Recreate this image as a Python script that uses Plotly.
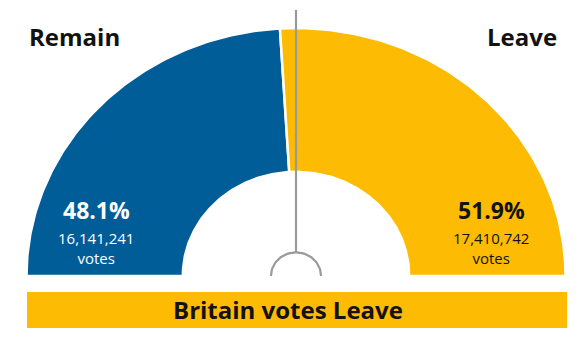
import numpy as np
import plotly.graph_objects as go

# ---- data ----
sides = ["Remain", "Leave"]
shares = [48.1, 51.9]
votes = [16141241, 17410742]
colors = ["#005d97", "#fdbb04"]
label_colors = ["#ffffff", "#121212"]
headline = "Britain votes Leave"

INNER = 0.42
FONT = "Open Sans"

fig = go.Figure()

# semicircle wedges computed from shares (180 deg total, from left to right)
start = 180.0
for name, share, col in zip(sides, shares, colors):
    end = start - share / 100.0 * 180.0
    t = np.radians(np.linspace(start, end, 120))
    xo, yo = np.cos(t), np.sin(t)
    xi, yi = INNER * np.cos(t[::-1]), INNER * np.sin(t[::-1])
    fig.add_trace(go.Scatter(
        x=np.concatenate([xo, xi, xo[:1]]),
        y=np.concatenate([yo, yi, yo[:1]]),
        fill="toself", fillcolor=col, mode="lines",
        line=dict(color="white", width=2.5),
        hoverinfo="skip", showlegend=False, name=name))
    start = end

# centre marker line and dome
fig.add_trace(go.Scatter(x=[0, 0], y=[0.095, 1.073], mode="lines",
                         line=dict(color="#9a9a9a", width=2.2),
                         hoverinfo="skip", showlegend=False))
td = np.radians(np.linspace(0, 180, 60))
fig.add_trace(go.Scatter(x=0.093 * np.cos(td), y=0.095 * np.sin(td), mode="lines",
                         line=dict(color="#9a9a9a", width=2.2),
                         hoverinfo="skip", showlegend=False))

# headline banner
fig.add_shape(type="rect", x0=-0.998, x1=1.006, y0=-0.2097, y1=-0.0645,
              fillcolor=colors[1], line=dict(width=0), layer="below")
fig.add_annotation(x=-0.03, y=-0.137, text="<b>" + headline + "</b>", showarrow=False,
                   font=dict(family=FONT, size=24, color="#121212"))

# side labels
fig.add_annotation(x=-0.998, y=0.964, text="<b>" + sides[0] + "</b>", showarrow=False,
                   xanchor="left", font=dict(family=FONT, size=24, color="#121212"))
fig.add_annotation(x=0.976, y=0.964, text="<b>" + sides[1] + "</b>", showarrow=False,
                   xanchor="right", font=dict(family=FONT, size=24, color="#121212"))

# value labels
for xpos, share, v, lc in zip([-0.742, 0.724], shares, votes, label_colors):
    fig.add_annotation(x=xpos, y=0.268, text="<b>%.1f%%</b>" % share, showarrow=False,
                       font=dict(family=FONT, size=23, color=lc))
    fig.add_annotation(x=xpos, y=0.113, text="{:,}<br>votes".format(v), showarrow=False,
                       font=dict(family=FONT, size=15, color=lc))

fig.update_layout(
    width=582, height=338, margin=dict(l=0, r=0, t=0, b=0),
    paper_bgcolor="white", plot_bgcolor="white",
    xaxis=dict(range=[-1.0983, 1.0612], visible=False, fixedrange=True),
    yaxis=dict(range=[-0.25, 1.1129], visible=False, fixedrange=True),
    showlegend=False,
)

fig.write_html("out.html")
